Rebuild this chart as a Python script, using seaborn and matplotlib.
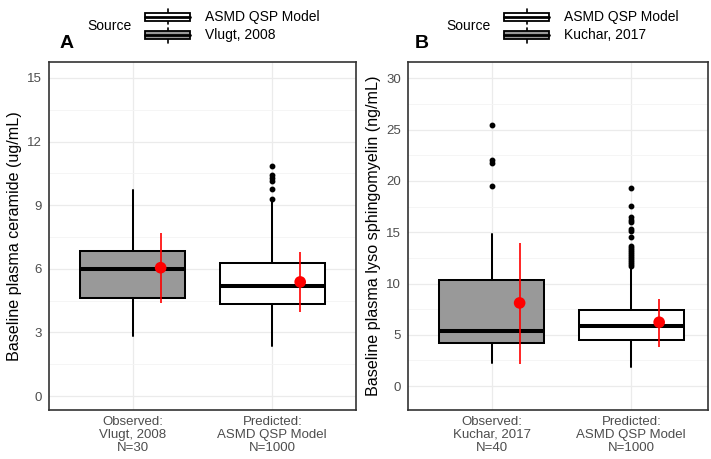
import matplotlib
matplotlib.use("Agg")
import matplotlib.pyplot as plt
import seaborn as sns
import numpy as np
import pandas as pd
from matplotlib.patches import Rectangle
from matplotlib.ticker import MultipleLocator

# ---------------- data ----------------
cats_A = ["Observed:\nVlugt, 2008\nN=30", "Predicted:\nASMD QSP Model\nN=1000"]
A_whislo = [2.83, 2.38]
A_q1 = [4.60, 4.35]
A_med = [6.00, 5.20]
A_q3 = [6.83, 6.27]
A_whishi = [9.70, 9.22]
A_fliers_obs = []
A_fliers_pred = [9.27, 9.74, 10.15, 10.29, 10.41, 10.84]
A_mean = [6.05, 5.38]
A_lo = [4.37, 3.97]
A_hi = [7.70, 6.80]

cats_B = ["Observed:\nKuchar, 2017\nN=40", "Predicted:\nASMD QSP Model\nN=1000"]
B_whislo = [2.21, 1.82]
B_q1 = [4.21, 4.47]
B_med = [5.33, 5.84]
B_q3 = [10.31, 7.39]
B_whishi = [14.8, 11.6]
B_fliers_obs = [19.5, 21.8, 22.05, 25.5]
B_fliers_pred = [11.7, 11.9, 12.1, 12.3, 12.5, 12.7, 12.9, 13.1, 13.3, 13.5,
                 13.7, 14.5, 15.1, 15.3, 16.0, 16.2, 16.5, 17.6, 19.3]
B_mean = [8.11, 6.23]
B_lo = [2.14, 3.83]
B_hi = [14.0, 8.53]

sources_A = ["Vlugt, 2008", "ASMD QSP Model"]
sources_B = ["Kuchar, 2017", "ASMD QSP Model"]
legend_order = [1, 0]

# ---------------- style ----------------
sns.set_theme(style="white")
plt.rcParams['font.family'] = ['Liberation Sans', 'DejaVu Sans']
plt.rcParams['text.color'] = 'black'
plt.rcParams['axes.labelcolor'] = 'black'

FILL = {0: "#999999", 1: "#FFFFFF"}
TICK_C = "#4D4D4D"

fig = plt.figure(figsize=(7.11, 4.59), dpi=100)
W, H = 711, 459


def ax_rect(l, r, t, b):
    return [l / W, (H - b) / H, (r - l) / W, (b - t) / H]


def draw_panel(ax, cats, whislo, q1, med, q3, whishi, fl_obs, fl_pred,
               mean, lo, hi, ylim, major, minor, ylabel, xlim):
    fliers = [fl_obs, fl_pred]
    stats = []
    for i in range(len(cats)):
        stats.append(dict(med=med[i], q1=q1[i], q3=q3[i], whislo=whislo[i],
                          whishi=whishi[i], fliers=fliers[i], label=cats[i]))
    pos = np.arange(1, len(cats) + 1)
    bp = ax.bxp(stats, positions=pos, widths=0.75, patch_artist=True,
                showcaps=False, showfliers=True,
                boxprops=dict(linewidth=1.45, edgecolor="black"),
                medianprops=dict(linewidth=2.9, color="black", solid_capstyle="butt"),
                whiskerprops=dict(linewidth=1.45, color="black"),
                flierprops=dict(marker="o", markerfacecolor="black",
                                markeredgecolor="black", markersize=3.2, linestyle="none"),
                zorder=3)
    for i, box in enumerate(bp["boxes"]):
        box.set_facecolor(FILL[i])
    # mean +/- interval in red
    mx = pos + 0.2
    ax.vlines(mx, lo, hi, color="red", linewidth=1.2, zorder=4)
    df = pd.DataFrame({"x": mx, "y": mean})
    sns.scatterplot(data=df, x="x", y="y", ax=ax, color="red", s=70,
                    edgecolor="none", zorder=5, legend=False)
    ax.set_xlim(*xlim)
    ax.set_ylim(*ylim)
    ax.yaxis.set_major_locator(MultipleLocator(major))
    ax.yaxis.set_minor_locator(MultipleLocator(minor))
    ax.set_xticks(pos)
    ax.set_xticklabels(cats, color=TICK_C, fontsize=9.5, linespacing=1.12)
    ax.tick_params(axis="y", labelcolor=TICK_C, labelsize=9.5)
    ax.tick_params(axis="both", which="major", length=3, width=0.8,
                   color="#333333", direction="out", pad=2)
    ax.tick_params(axis="x", which="major", pad=1)
    ax.tick_params(axis="both", which="minor", length=0)
    ax.grid(True, which="major", color="#EBEBEB", linewidth=0.9)
    ax.grid(True, which="minor", axis="y", color="#F4F4F4", linewidth=0.6)
    ax.set_axisbelow(True)
    for s in ax.spines.values():
        s.set_color("#333333")
        s.set_linewidth(1.2)
    ax.set_ylabel(ylabel, fontsize=11.6, color="black", labelpad=4)
    ax.set_xlabel("")


axA = fig.add_axes(ax_rect(49, 356, 62, 410))
draw_panel(axA, cats_A, A_whislo, A_q1, A_med, A_q3, A_whishi, A_fliers_obs,
           A_fliers_pred, A_mean, A_lo, A_hi, (-0.66, 15.75), 3, 1.5,
           "Baseline plasma ceramide (ug/mL)", (0.4, 2.6))

axB = fig.add_axes(ax_rect(408, 708, 62, 410))
draw_panel(axB, cats_B, B_whislo, B_q1, B_med, B_q3, B_whishi, B_fliers_obs,
           B_fliers_pred, B_mean, B_lo, B_hi, (-2.33, 31.6), 5, 2.5,
           "Baseline plasma lyso sphingomyelin (ng/mL)", (0.4, 2.55))

# ---------------- legends & panel tags (pixel overlay) ----------------
ov = fig.add_axes([0, 0, 1, 1], facecolor="none")
ov.set_xlim(0, W)
ov.set_ylim(H, 0)
ov.axis("off")


def legend(x0, tag_x, sources, tag):
    ov.text(tag_x, 43, tag, fontsize=14, fontweight="bold", ha="left",
            va="center", color="black")
    ov.text(x0, 26.5, "Source", fontsize=10, ha="left", va="center", color="black")
    kx = x0 + 58
    for row, idx in enumerate(legend_order):
        yc = 16.7 + row * 18.3
        ov.plot([kx + 22.5, kx + 22.5], [yc - 7.5, yc + 7.5], color="black", lw=1.2)
        ov.add_patch(Rectangle((kx, yc - 4), 45, 8, facecolor=FILL[idx],
                               edgecolor="black", lw=1.3, zorder=3))
        ov.plot([kx, kx + 45], [yc, yc], color="black", lw=2.0, zorder=4)
        ov.text(kx + 60, yc, sources[idx], fontsize=10, ha="left", va="center",
                color="black")


legend(87, 60, sources_A, "A")
legend(446, 415, sources_B, "B")

fig.savefig("out.png", dpi=100)
